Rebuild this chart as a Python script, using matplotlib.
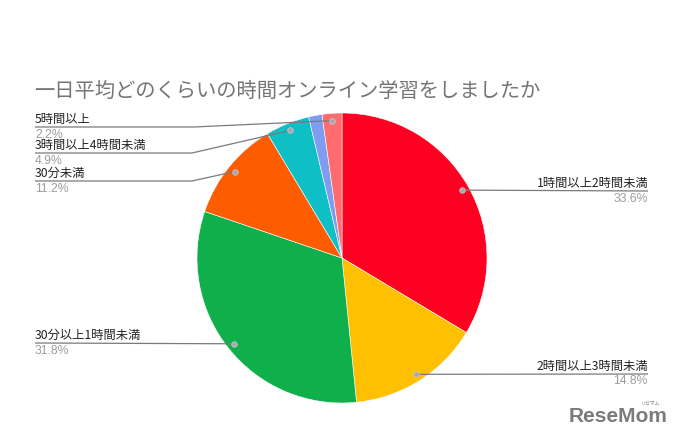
import matplotlib
matplotlib.use("Agg")
import numpy as np
import matplotlib.pyplot as plt

plt.rcParams['font.family'] = ['Noto Sans CJK JP', 'DejaVu Sans']

W, H = 681, 437

title = "一日平均どのくらいの時間オンライン学習をしましたか"
labels = ["1時間以上2時間未満", "2時間以上3時間未満", "30分以上1時間未満",
          "30分未満", "3時間以上4時間未満", "", "5時間以上"]
values = [33.6, 14.8, 31.8, 11.2, 4.9, 1.5, 2.2]
colors = ["#fe0022", "#fec000", "#0fb04c", "#fe5c00", "#0fbfc6", "#7f9cf0", "#fe6c6e"]

# label layout: side, y of the leader line (pixels from top), elbow x
layout = {
    0: ("right", 191, None),
    1: ("right", 374, None),
    2: ("left", 343, None),
    3: ("left", 181, 192),
    4: ("left", 153, 192),
    6: ("left", 127, 194),
}

cx, cy, r = 342, 258, 145


def Y(y):
    return H - y


fig = plt.figure(figsize=(W / 100, H / 100), dpi=100)
ax = fig.add_axes([0, 0, 1, 1])
wedges, _ = ax.pie(values, colors=colors, startangle=90, counterclock=False,
                   center=(cx, Y(cy)), radius=r,
                   wedgeprops=dict(edgecolor="white", linewidth=0.4))
ax.set_xlim(0, W)
ax.set_ylim(0, H)
ax.set_aspect("equal")
ax.axis("off")

ax.text(34, Y(91), title, fontsize=14.6, color="#757575", va="center", ha="left")

line_c = "#7a7a7a"
for i, (side, ly, ex) in layout.items():
    w = wedges[i]
    mid = np.deg2rad((w.theta1 + w.theta2) / 2)
    dx = cx + 0.95 * r * np.cos(mid)
    dy = Y(cy) + 0.95 * r * np.sin(mid)
    if side == "right":
        xs = [dx, 648]
        ys = [dy, Y(ly)]
        tx, ha = 648, "right"
    else:
        if ex is None:
            xs = [35, dx]
            ys = [Y(ly), dy]
        else:
            xs = [35, ex, dx]
            ys = [Y(ly), Y(ly), dy]
        tx, ha = 35, "left"
    ax.plot(xs, ys, color=line_c, lw=0.9, solid_capstyle="butt")
    ax.plot(dx, dy, "o", ms=4, mfc="#a8a8a8", mec="#d0d0d0", mew=0.5)
    ax.text(tx, Y(ly) + 4, labels[i], fontsize=8.8, color="#222222",
            ha=ha, va="baseline")
    ax.text(tx, Y(ly) - 10.5, f"{values[i]}%", fontsize=8.8, color="#9e9e9e",
            ha=ha, va="baseline", family=["Liberation Sans", "DejaVu Sans"])

# watermark
ax.text(668, Y(416), "ReseMom", fontsize=15, fontweight="bold", color="#7b7b7b",
        ha="right", va="center", family=["Liberation Sans", "DejaVu Sans"])
ax.text(660, Y(403), "リセマム", fontsize=3.5, color="#7b7b7b", ha="right", va="center")

fig.savefig("out.png", dpi=100)
